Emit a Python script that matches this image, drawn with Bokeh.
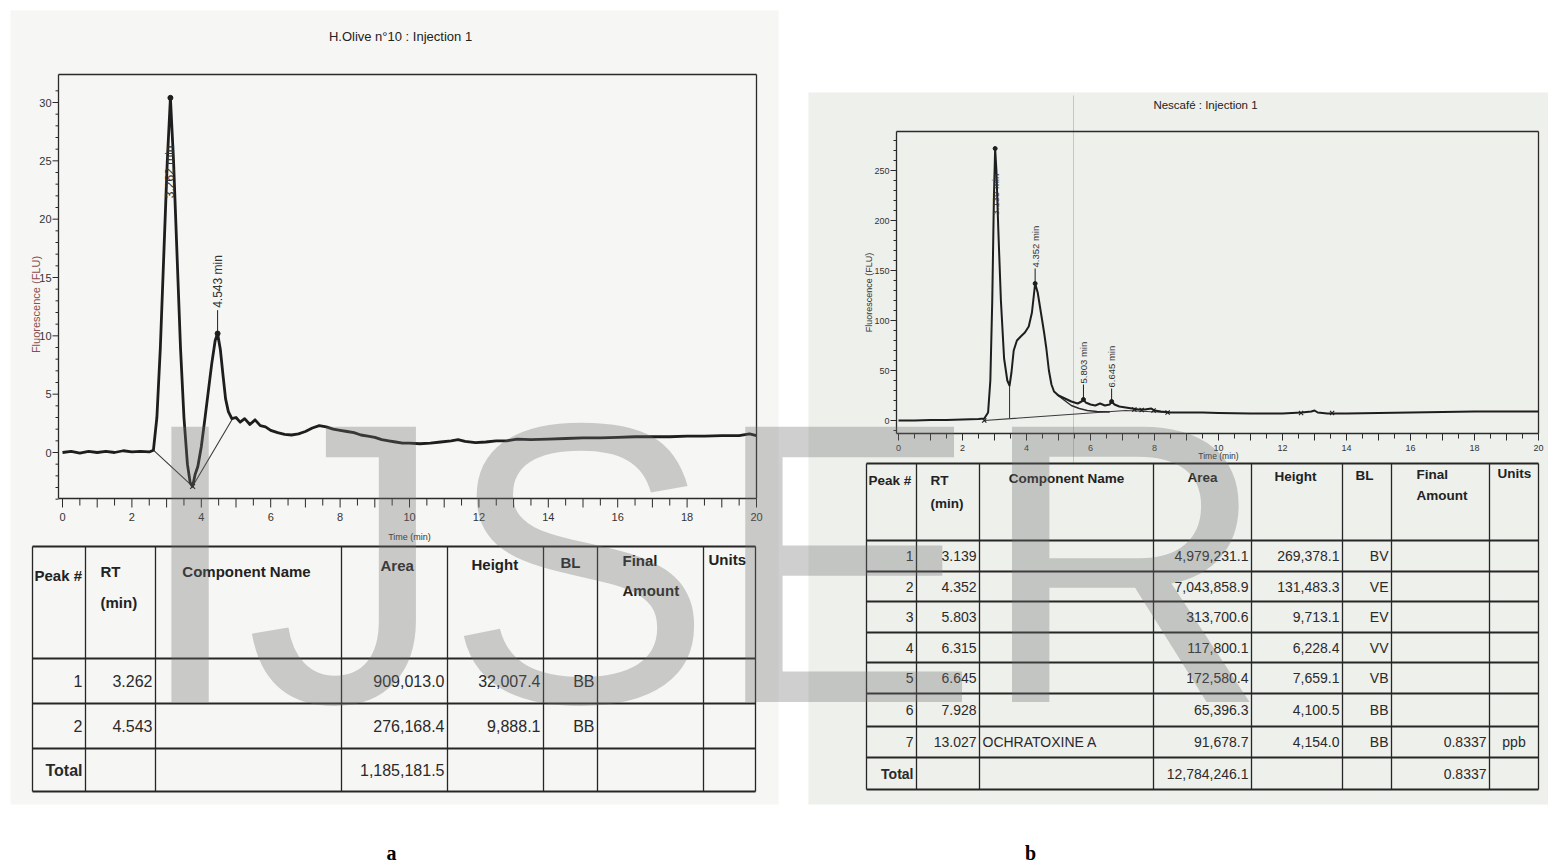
import math
import numpy as np
from bokeh.plotting import figure
from bokeh.models import Range1d
from bokeh.core.properties import value
from bokeh.embed import file_html
from bokeh.resources import INLINE

# ======================= DATA =======================
# ---- panel a : H.Olive n°10 ----
olive_title = "H.Olive n°10 : Injection 1"
olive_time = [0.0, 0.25, 0.5, 0.75, 1.0, 1.25, 1.5, 1.75, 2.0, 2.25,
              2.5, 2.62, 2.72, 2.82, 2.92, 3.02, 3.11, 3.2, 3.3, 3.4,
              3.5, 3.6, 3.68, 3.75, 3.82, 3.9, 4.0, 4.1, 4.2, 4.3,
              4.4, 4.47, 4.55, 4.63, 4.7, 4.78, 4.88, 5.0, 5.12, 5.25,
              5.4, 5.55, 5.7, 5.85, 6.0, 6.2, 6.4, 6.6, 6.8, 7.0,
              7.2, 7.4, 7.6, 7.8, 8.0, 8.2, 8.4, 8.6, 8.8, 9.0,
              9.2, 9.4, 9.6, 9.8, 10.0, 10.3, 10.6, 10.9, 11.2, 11.4,
              11.6, 11.9, 12.2, 12.5, 12.8, 13.1, 13.5, 14.0, 14.5, 15.0,
              15.5, 16.0, 16.5, 17.0, 17.5, 18.0, 18.5, 19.0, 19.5, 19.8,
              20.0]
olive_flu = [0.0, 0.1, -0.05, 0.1, 0.0, 0.1, 0.0, 0.15, 0.05, 0.1,
             0.05, 0.2, 3.0, 9.0, 17.0, 25.0, 30.4, 25.0, 17.0, 9.0,
             3.0, -1.0, -2.6, -2.9, -1.9, -1.2, 0.5, 2.8, 5.2, 7.6,
             9.6, 10.2, 8.8, 6.5, 4.6, 3.5, 2.9, 3.0, 2.6, 2.9,
             2.4, 2.8, 2.3, 2.2, 1.9, 1.7, 1.55, 1.5, 1.6, 1.8,
             2.1, 2.3, 2.2, 2.0, 1.9, 1.8, 1.7, 1.5, 1.4, 1.3,
             1.1, 1.0, 0.9, 0.8, 0.8, 0.75, 0.8, 0.9, 1.0, 1.1,
             0.95, 0.85, 0.9, 1.0, 1.0, 1.15, 1.1, 1.15, 1.2, 1.25,
             1.25, 1.3, 1.35, 1.35, 1.35, 1.4, 1.4, 1.45, 1.45, 1.6,
             1.45]
olive_peak_time = [3.11, 4.47]
olive_peak_flu = [30.4, 10.2]
olive_peak_labels = ["3.262 min", "4.543 min"]
olive_label_start = [21.8, 12.4]
olive_base_time = [2.62, 3.75, 4.9]
olive_base_flu = [0.2, -2.9, 2.9]

olive_peak_no = ["1", "2"]
olive_rt = ["3.262", "4.543"]
olive_area = ["909,013.0", "276,168.4"]
olive_height = ["32,007.4", "9,888.1"]
olive_bl = ["BB", "BB"]
olive_total_area = "1,185,181.5"

# ---- panel b : Nescafé ----
nes_title = "Nescafé : Injection 1"
nes_time = [0.0, 0.5, 1.0, 1.5, 2.0, 2.5, 2.68, 2.8, 2.87, 2.93,
            2.98, 3.02, 3.06, 3.12, 3.2, 3.3, 3.4, 3.47, 3.53, 3.6,
            3.7, 3.82, 3.95, 4.07, 4.17, 4.27, 4.35, 4.45, 4.55, 4.62,
            4.7, 4.78, 4.86, 5.0, 5.2, 5.4, 5.6, 5.72, 5.78, 5.85,
            6.0, 6.15, 6.3, 6.45, 6.6, 6.66, 6.75, 6.9, 7.1, 7.3,
            7.5, 7.7, 7.9, 8.0, 8.2, 8.5, 9.0, 9.5, 10.0, 11.0,
            12.0, 12.6, 12.9, 13.0, 13.1, 13.4, 14.0, 15.0, 16.0, 17.0,
            18.0, 19.0, 20.0]
nes_flu = [0, 0, 0.5, 0.5, 1, 1.5, 2, 8, 40, 120,
           220, 272, 250, 190, 120, 62, 40, 35, 48, 70,
           80, 84, 88, 94, 108, 137, 128, 108, 88, 72,
           50, 36, 29, 25, 22, 19, 17, 19, 21, 18,
           16, 15, 17, 15, 16, 19, 16, 14, 13, 12,
           11, 11, 12, 10, 9, 8, 8, 8, 7.5, 7,
           7, 8, 9, 10, 8, 7, 7, 7.5, 8, 8.5,
           9, 9, 9]
nes_skim_time = [4.95, 5.15, 5.4, 5.65, 5.9, 6.2, 6.6]
nes_skim_flu = [26, 21, 15, 12, 10, 9, 8.5]
nes_base_time = [2.68, 7.1, 8.4]
nes_base_flu = [0, 10, 8]
nes_mark_time = [2.68, 7.37, 7.6, 7.97, 8.41, 12.58, 13.55]
nes_mark_flu = [0, 11, 10.5, 10, 8, 7.5, 7.5]
nes_peak_time = [3.02, 4.27, 5.78, 6.66]
nes_peak_flu = [272, 137, 21, 19]
nes_peak_labels = ["3.139 min", "4.352 min", "5.803 min", "6.645 min"]
nes_label_start = [205, 153, 37, 33]

nes_peak_no = ["1", "2", "3", "4", "5", "6", "7"]
nes_rt = ["3.139", "4.352", "5.803", "6.315", "6.645", "7.928", "13.027"]
nes_name = ["", "", "", "", "", "", "OCHRATOXINE A"]
nes_area = ["4,979,231.1", "7,043,858.9", "313,700.6", "117,800.1",
            "172,580.4", "65,396.3", "91,678.7"]
nes_height = ["269,378.1", "131,483.3", "9,713.1", "6,228.4",
              "7,659.1", "4,100.5", "4,154.0"]
nes_bl = ["BV", "VE", "EV", "VV", "VB", "BB", "BB"]
nes_amount = ["", "", "", "", "", "", "0.8337"]
nes_units = ["", "", "", "", "", "", "ppb"]
nes_total_area = "12,784,246.1"
nes_total_amount = "0.8337"

y_label = "Fluorescence (FLU)"
x_label = "Time (min)"
watermark = "IJSER"
captions = ["a", "b"]

# ======================= LAYOUT =======================
W, H = 1548, 865
OX, OY = 0, 0
SANS = value("Liberation Sans")
INK = "#1e1e1e"

p = figure(width=W, height=H, x_range=Range1d(OX, OX + W), y_range=Range1d(OY + H, OY),
           output_backend="svg", toolbar_location=None, min_border=0,
           x_axis_location=None, y_axis_location=None)
p.outline_line_color = None
p.background_fill_color = "white"
p.border_fill_color = "white"
p.xgrid.visible = False
p.ygrid.visible = False


def time_range(px0, px20):
    s = (px20 - px0) / 20.0
    return Range1d(start=(OX - px0) / s, end=(OX + W - px0) / s)


def flu_range(py0, k):
    return Range1d(start=(py0 - (OY + H)) / k, end=(py0 - OY) / k)


# chart a: t=0 at x=62, t=20 at x=756 ; flu 0 at y=452, 30 at y=102
# chart b: t=0 at x=898, t=20 at x=1538 ; flu 0 at y=420, 250 at y=170
p.extra_x_ranges = {"tA": time_range(62, 756), "tB": time_range(898, 1538)}
p.extra_y_ranges = {"fA": flu_range(452, 350 / 30.0), "fB": flu_range(420, 1.0)}

# scanned sheets
p.quad(left=[10], right=[778], top=[10], bottom=[804], fill_color="#f6f6f4", line_color=None)
p.quad(left=[808], right=[1548], top=[92], bottom=[804], fill_color="#eef0ec", line_color=None)
p.segment(x0=[1073], y0=[95], x1=[1073], y1=[462], line_color="#c4c6c2", line_width=1)


def chart(frame, xr, yr, ymin, ymax, ystep_minor, ystep_major, tick_len, lab_y, lab_size,
          ylab_x, ylab_y, ylab_size, ylab_color, title, title_x, title_y, title_size,
          xlab_y, xlab_size):
    left, top, right, bottom = frame
    p.segment(x0=[left, left, left, right], y0=[top, bottom, top, top],
              x1=[right, right, left, right], y1=[top, bottom, bottom, bottom],
              line_color="#2a2a2a", line_width=1.3)
    # x ticks every 0.5 min, labels every 2 min
    xt = np.arange(0, 20.01, 0.5)
    lens = [tick_len + 2 if abs(t - round(t)) < 1e-9 else tick_len for t in xt]
    p.segment(x0=xt, y0=[bottom] * len(xt), x1=xt, y1=[bottom + L for L in lens],
              x_range_name=xr, line_color="#2a2a2a", line_width=1)
    xl = np.arange(0, 20.01, 2)
    p.text(x=xl, y=[lab_y] * len(xl), text=[str(int(v)) for v in xl], x_range_name=xr,
           text_font=SANS, text_font_size=lab_size, text_color="#333",
           text_align="center", text_baseline="middle")
    p.text(x=[10], y=[xlab_y], text=[x_label], x_range_name=xr, text_font=SANS,
           text_font_size=xlab_size, text_color="#333", text_align="center", text_baseline="middle")
    # y ticks
    yt = np.arange(ymin, ymax + 1e-9, ystep_minor)
    ylen = [6 if abs(v / ystep_major - round(v / ystep_major)) < 1e-9 else 3 for v in yt]
    p.segment(x0=[left] * len(yt), y0=yt, x1=[left - L for L in ylen], y1=yt,
              y_range_name=yr, line_color="#2a2a2a", line_width=1)
    yl = [v for v in yt if v >= 0 and abs(v / ystep_major - round(v / ystep_major)) < 1e-9]
    p.text(x=[left - 7] * len(yl), y=yl, text=[str(int(v)) for v in yl], y_range_name=yr,
           text_font=SANS, text_font_size=lab_size, text_color="#333",
           text_align="right", text_baseline="middle")
    p.text(x=[ylab_x], y=[ylab_y], text=[y_label], angle=math.pi / 2, text_font=SANS,
           text_font_size=ylab_size, text_color=ylab_color, text_align="center",
           text_baseline="middle")
    p.text(x=[title_x], y=[title_y], text=[title], text_font=SANS, text_font_size=title_size,
           text_color="#222", text_align="center", text_baseline="middle")


chart((58, 74, 756, 498), "tA", "fA", -4, 31, 1, 5, 7, 516, "11px",
      35, 304, "11px", "#8c4d4d", olive_title, 400, 36, "13px", 536, "9px")
chart((896, 131, 1538, 433), "tB", "fB", -10, 280, 10, 50, 5, 447, "9px",
      868, 292, "9px", "#333", nes_title, 1205, 104, "11.5px", 455, "8.5px")

# ---- traces : panel a ----
p.line(olive_base_time, olive_base_flu, x_range_name="tA", y_range_name="fA",
       line_color="#3a3a3a", line_width=1.1)
p.line(olive_time, olive_flu, x_range_name="tA", y_range_name="fA",
       line_color=INK, line_width=2.8, line_join="round")
p.scatter(olive_peak_time, olive_peak_flu, x_range_name="tA", y_range_name="fA",
          size=5, color=INK)
p.scatter([olive_base_time[1]], [olive_base_flu[1]], x_range_name="tA", y_range_name="fA",
          marker="x", size=7, line_color=INK, line_width=1.2)
p.segment(x0=[olive_peak_time[1]], y0=[olive_peak_flu[1]], x1=[olive_peak_time[1]],
          y1=[olive_label_start[1] - 0.2], x_range_name="tA", y_range_name="fA",
          line_color=INK, line_width=1)
p.text(x=olive_peak_time, y=olive_label_start, text=olive_peak_labels, angle=math.pi / 2,
       x_range_name="tA", y_range_name="fA", text_font=SANS, text_font_size="12px",
       text_color="#333", text_align="left", text_baseline="middle")

# ---- traces : panel b ----
p.line(nes_base_time, nes_base_flu, x_range_name="tB", y_range_name="fB",
       line_color="#3a3a3a", line_width=1.1)
p.segment(x0=[3.47], y0=[35], x1=[3.47], y1=[2.5], x_range_name="tB", y_range_name="fB",
          line_color="#3a3a3a", line_width=1.1)
p.line(nes_skim_time, nes_skim_flu, x_range_name="tB", y_range_name="fB",
       line_color="#2a2a2a", line_width=1.4)
p.line(nes_time, nes_flu, x_range_name="tB", y_range_name="fB",
       line_color=INK, line_width=2.0, line_join="round")
p.scatter(nes_peak_time, nes_peak_flu, x_range_name="tB", y_range_name="fB",
          size=4, color=INK)
p.scatter(nes_mark_time, nes_mark_flu, x_range_name="tB", y_range_name="fB",
          marker="x", size=6, line_color=INK, line_width=1.1)
p.segment(x0=nes_peak_time[1:], y0=nes_peak_flu[1:], x1=nes_peak_time[1:],
          y1=[v - 1 for v in nes_label_start[1:]], x_range_name="tB", y_range_name="fB",
          line_color=INK, line_width=1)
p.text(x=nes_peak_time, y=nes_label_start, text=nes_peak_labels, angle=math.pi / 2,
       x_range_name="tB", y_range_name="fB", text_font=SANS, text_font_size="9.5px",
       text_color="#333", text_align="left", text_baseline="middle")

# ======================= TABLES =======================
headers = [["Peak #"], ["RT", "(min)"], ["Component Name"], ["Area"], ["Height"], ["BL"],
           ["Final", "Amount"], ["Units"]]


def table(cols, rows, head_pos, head_size, val_size, body):
    p.segment(x0=[cols[0]] * len(rows), y0=rows, x1=[cols[-1]] * len(rows), y1=rows,
              line_color="#262626", line_width=2.2)
    p.segment(x0=cols, y0=[rows[0]] * len(cols), x1=cols, y1=[rows[-1]] * len(cols),
              line_color="#262626", line_width=1.3)
    for (hx, hy, al, gap), lines in zip(head_pos, headers):
        p.text(x=[hx] * len(lines), y=[hy + i * gap for i in range(len(lines))], text=lines,
               text_font=SANS, text_font_style="bold", text_font_size=head_size,
               text_color="#222", text_align=al, text_baseline="middle")
    for ci, col_vals in body:
        ys = [(rows[i + 1] + rows[i + 2]) / 2 for i in range(len(col_vals))]
        xs, aligns = [], []
        for v in col_vals:
            if ci == 2:
                xs.append(cols[2] + 3); aligns.append("left")
            elif ci == 7:
                xs.append((cols[7] + cols[8]) / 2); aligns.append("center")
            else:
                xs.append(cols[ci + 1] - 3); aligns.append("right")
        styles = ["bold" if v == "Total" else "normal" for v in col_vals]
        p.text(x=xs, y=ys, text=col_vals, text_font=SANS, text_font_size=val_size,
               text_font_style=styles, text_color="#2a2a2a", text_align=aligns,
               text_baseline="middle")


cols_a = [32, 85, 155, 341, 447, 543, 597, 703, 755]
rows_a = [546, 658, 703, 748, 791]
head_a = [(34, 575, "left", 0), (100, 571, "left", 31), (246, 571, "center", 0),
          (380, 565, "left", 0), (471, 564, "left", 0), (560, 562, "left", 0),
          (622, 560, "left", 30), (708, 559, "left", 0)]
body_a = [(0, olive_peak_no + ["Total"]), (1, olive_rt), (3, olive_area + [olive_total_area]),
          (4, olive_height), (5, olive_bl)]
table(cols_a, rows_a, head_a, "15px", "16px", body_a)

cols_b = [866, 916, 979, 1153, 1251, 1342, 1391, 1489, 1538]
rows_b = [463, 540, 571, 601, 632, 662, 693, 726, 757, 789]
head_b = [(868, 480, "left", 0), (930, 480, "left", 23), (1066, 478, "center", 0),
          (1187, 477, "left", 0), (1274, 476, "left", 0), (1355, 475, "left", 0),
          (1416, 474, "left", 21), (1497, 473, "left", 0)]
body_b = [(0, nes_peak_no + ["Total"]), (1, nes_rt), (2, nes_name),
          (3, nes_area + [nes_total_area]), (4, nes_height), (5, nes_bl),
          (6, nes_amount + [nes_total_amount]), (7, nes_units)]
table(cols_b, rows_b, head_b, "13.5px", "14px", body_b)

# ======================= WATERMARK & CAPTIONS =======================
p.text(x=[134], y=[563], text=[watermark], text_font=SANS, text_font_size="400px",
       text_color="#6e6e6e", text_alpha=0.33, text_align="left", text_baseline="alphabetic")
p.text(x=[391, 1030], y=[852, 852], text=captions, text_font=value("Liberation Serif"),
       text_font_style="bold", text_font_size="20px", text_color="black",
       text_align="center", text_baseline="middle")

open("out.html", "w").write(file_html(p, INLINE))
